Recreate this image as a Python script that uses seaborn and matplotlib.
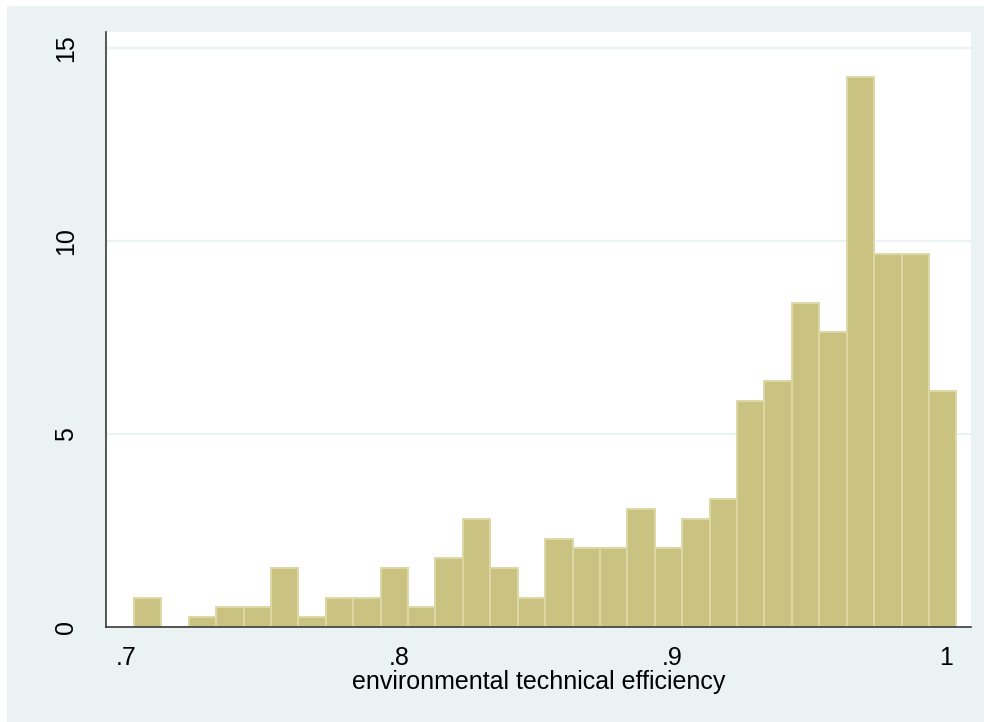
import numpy as np
import pandas as pd
import seaborn as sns
import matplotlib.pyplot as plt
from matplotlib.patches import Rectangle

# histogram: 30 equal bins, counts per bin
bin_start = 0.7030
bin_width = 0.01003
counts = [3, 0, 1, 2, 2, 6, 1, 3, 3, 6,
          2, 7, 11, 6, 3, 9, 8, 8, 12, 8,
          11, 13, 23, 25, 33, 30, 56, 38, 38, 24]
x_ticks = [0.7, 0.8, 0.9, 1.0]
x_tick_labels = [".7", ".8", ".9", "1"]
y_ticks = [0, 5, 10, 15]
y_tick_labels = ["0", "5", "10", "15"]
x_title = "environmental technical efficiency"

n_bins = len(counts)
bin_end = bin_start + n_bins * bin_width
df = pd.DataFrame({
    "efficiency": bin_start + bin_width * (np.arange(n_bins) + 0.5),
    "count": counts,
})

sns.set_style("white")
plt.rcParams["font.family"] = ["Liberation Sans", "DejaVu Sans"]

bg = "#EAF2F3"
fig = plt.figure(figsize=(9.84, 7.22), dpi=100, facecolor="white")
fig.patches.append(Rectangle((7 / 984, 0), 1, 1 - 6 / 722, transform=fig.transFigure,
                             facecolor=bg, edgecolor="none", zorder=-10))

ax = fig.add_axes([0.1074, 0.1316, 0.8794, 0.8241])
ax.set_facecolor("white")

sns.histplot(data=df, x="efficiency", weights="count", bins=n_bins,
             binrange=(bin_start, bin_end), stat="density",
             color="#CAC281", edgecolor="#DDD8A5", linewidth=1.4, alpha=1,
             ax=ax, zorder=3)

ax.set_xlim(0.69268, 1.00926)
ax.set_ylim(0, 15.41)
ax.set_xticks(x_ticks)
ax.set_xticklabels(x_tick_labels)
ax.set_yticks(y_ticks)
ax.set_yticklabels(y_tick_labels, rotation=90, va="center")

for y in y_ticks[1:]:
    ax.axhline(y, color=bg, linewidth=1.6, zorder=1)

for side in ["top", "right"]:
    ax.spines[side].set_visible(False)
for side in ["left", "bottom"]:
    ax.spines[side].set_color("#3A3A3A")
    ax.spines[side].set_linewidth(1.2)
    ax.spines[side].set_zorder(5)

ax.tick_params(axis="both", which="major", direction="out", length=7, width=1.2,
               color="#3A3A3A", labelsize=18, labelcolor="black")
ax.tick_params(axis="x", pad=7)
ax.tick_params(axis="y", pad=13)

ax.set_xlabel(x_title, fontsize=18, labelpad=0, color="black")
ax.set_ylabel("")

plt.savefig("out.png", dpi=100, facecolor="white")
